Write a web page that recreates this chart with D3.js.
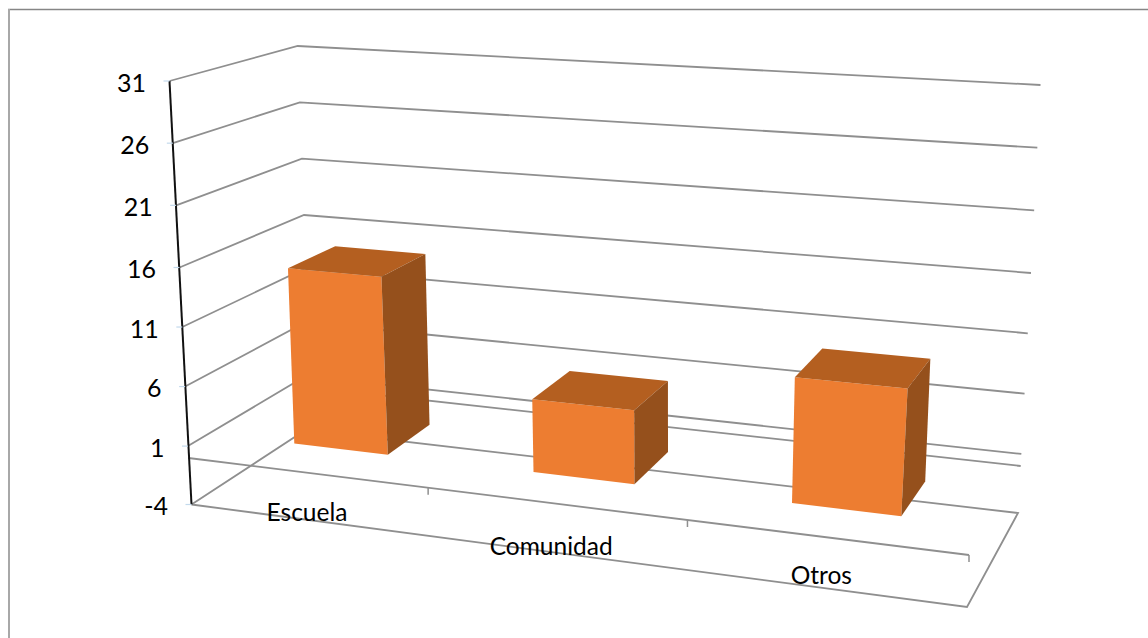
<!DOCTYPE html>
<html>
<head>
<meta charset="utf-8">
<script src="https://d3js.org/d3.v7.min.js"></script>
<style>
	html, body { margin:0; padding:0; background:#fff; }
	svg { display:block; }
	text { font-family:Lato, "Open Sans", sans-serif; fill:#000; }
</style>
</head>
<body>
<svg id="chart" width="1148" height="638"></svg>
<script>
var categories = ['Escuela', 'Comunidad', 'Otros'];
var values = [15, 6, 10];
var ticks = [-4, 1, 6, 11, 16, 21, 26, 31];

var svg = d3.select('#chart');

// the four upright edges of the 3d box, each one a value -> pixel scale
function edge(xs, ys) {
	return {
		x: d3.scaleLinear().domain([-4, 0, 16, 31]).range(xs),
		y: d3.scaleLinear().domain([-4, 0, 16, 31]).range(ys)
	};
}
var frontLeft = edge([191.5, 188.5, 179.5, 169.5], [504.5, 458, 267.5, 81]);
var frontRight = edge([967, 969, 986, 1003], [607, 555, 343, 137]);
var backLeft = edge([305.5, 305.5, 304, 297.7], [430, 387, 215, 46]);
var backRight = edge([1018, 1020.7, 1031, 1040.5], [513, 466, 273, 85]);

// perspective map of the unit square onto a quad, u along categories and w into depth
function project(u, w, v) {
	var x0 = frontLeft.x(v), y0 = frontLeft.y(v),
		x1 = frontRight.x(v), y1 = frontRight.y(v),
		x2 = backRight.x(v), y2 = backRight.y(v),
		x3 = backLeft.x(v), y3 = backLeft.y(v);
	var sx = x0 - x1 + x2 - x3, sy = y0 - y1 + y2 - y3,
		dx1 = x1 - x2, dx2 = x3 - x2, dy1 = y1 - y2, dy2 = y3 - y2;
	var den = dx1 * dy2 - dx2 * dy1;
	var g = (sx * dy2 - dx2 * sy) / den, h = (dx1 * sy - sx * dy1) / den;
	var a = x1 - x0 + g * x1, b = x3 - x0 + h * x3,
		d = y1 - y0 + g * y1, e = y3 - y0 + h * y3;
	var q = g * u + h * w + 1;
	return [(a * u + b * w + x0) / q, (d * u + e * w + y0) / q];
}

var catScale = d3.scaleBand().domain(categories).range([0, 1]).paddingInner(0);
var gridColor = '#8f8f8f';

function line(points, color, width) {
	svg.append('path')
		.attr('d', d3.line()(points))
		.attr('fill', 'none')
		.attr('stroke', color)
		.attr('stroke-width', width);
}

// outer frame, only the top and left sides show
line([[8, 9.5], [1148, 9.5]], '#868686', 1.5);
line([[9, 9], [9, 638]], '#a8a8a8', 2);

// walls
ticks.forEach(function(t) {
	if (t == -4) return;
	line([project(0, 0, t), project(0, 1, t), project(1, 1, t)], gridColor, 1.8);
});
// floor
line([project(0, 0, -4), project(0, 1, -4), project(1, 1, -4), project(1, 0, -4), project(0, 0, -4)], gridColor, 1.8);
// zero plane line on the back wall and the category axis at the front
line([project(0, 1, 0), project(1, 1, 0)], gridColor, 1.8);
line([project(0, 0, 0), project(1, 0, 0)], gridColor, 1.8);
[1, 2, 3].forEach(function(i) {
	var p = project(i / 3, 0, 0);
	line([p, [p[0], p[1] + 7]], gridColor, 1.5);
});

// value axis
line([project(0, 0, 31), project(0, 0, -4)], '#111', 2);
ticks.forEach(function(t) {
	var p = project(0, 0, t);
	line([[p[0] - 6, p[1]], p], '#c3d9ec', 1.2);
	svg.append('text')
		.attr('x', p[0] - 23.5).attr('y', p[1] + 2)
		.attr('dy', '0.35em')
		.attr('text-anchor', 'end')
		.attr('font-size', 25)
		.text(t);
});

// bars
categories.forEach(function(c, i) {
	var u0 = catScale(c) + catScale.bandwidth() * 0.3,
		u1 = catScale(c) + catScale.bandwidth() * 0.7,
		w0 = 0.3, w1 = 0.7, v = values[i];
	function face(pts, color) {
		svg.append('polygon')
			.attr('points', pts.map(function(p) { return project(p[0], p[1], p[2]).join(','); }).join(' '))
			.attr('fill', color);
	}
	face([[u0, w0, 0], [u1, w0, 0], [u1, w0, v], [u0, w0, v]], '#ed7d31');
	face([[u0, w0, v], [u1, w0, v], [u1, w1, v], [u0, w1, v]], '#b45f20');
	face([[u1, w0, 0], [u1, w1, 0], [u1, w1, v], [u1, w0, v]], '#95501c');
});

// category labels sit below the axis line, over the floor
categories.forEach(function(c, i) {
	var p = project(catScale(c) + catScale.bandwidth() / 2, 0, 0);
	svg.append('text')
		.attr('x', p[0] + (i == 0 ? 1 : -4))
		.attr('y', p[1] + [40, 43, 38][i])
		.attr('dy', '0.35em')
		.attr('text-anchor', 'middle')
		.attr('font-size', 24.5)
		.text(c);
});
</script>
</body>
</html>
